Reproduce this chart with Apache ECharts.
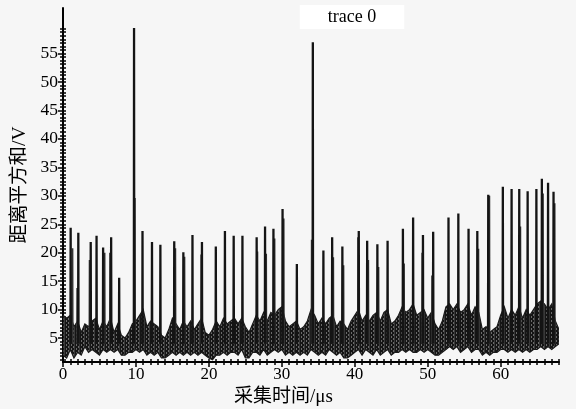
<!DOCTYPE html>
<html><head><meta charset="utf-8">
<script src="https://cdn.jsdelivr.net/npm/echarts@6/dist/echarts.min.js"></script>
<style>html,body{margin:0;padding:0;background:#f6f6f6}#c{width:576px;height:409px}</style>
</head><body><div id="c"></div>
<script>
// Noise band envelopes, sampled every 0.5 µs from 0 to 68
const bandStep = 0.5;
const bandHigh = [9,8.5,9,7,8,6,7.5,7,8,8.5, 6.5,8,7,8.5,6,7.5,5.5,5,6,7.5, 8,9,10,7,8,7.5,7,5.5,5,6.5,
  8.5,7.5,6.5,8,7,8,6.5,7.5,8.5,6, 5.5,6.5,8,7,8.5,7.5,8,8.5,7.5,8.5, 7,6,7.5,9,8,9.5,8,9.5,9,10,
  10.5,8,7,7.5,8,6.5,7,8,10,9, 7.5,8.5,7.5,8.5,9,7,8,7.5,6.5,8, 9,10,8,9,8,9,9.5,8,9.5,10,
  7.5,8,9,10.5,9.5,10,11,9,9.5,10, 8.5,9.5,7.5,6.5,8,10.5,11,10,11,9.5, 10,11,9,10.5,9.5,6.5,7,6,6.5,7,
  9,10.5,8.5,10,9,10.5,8.5,10,9,10, 11,11.5,11,10,11,8,6.5];
const bandLow = [2,1.5,3,1.5,2.5,2,3.5,2.5,3,2.5, 2,3,2.5,3,2.5,3,2,2,2.5,2.5, 3,2.5,3,2,2.5,2,2.5,1.5,1.5,2,
  2.5,2,2.5,2,2.5,2,2.5,2,2.5,2, 1.5,1.2,2,2,2.5,2,2.5,2.5,2,3, 1.5,1.5,2.5,2.5,2,3,2,2.5,3,2.5,
  3,2,2.5,2,2.5,2,2.5,2,3,2.5, 2,2.5,2,3,2.5,2,2.5,1.5,1.5,2, 2.5,3,2,3,2.5,2,3,2,2.5,3,
  2,2.5,2.5,3,2.5,3,2.5,2.5,3,2.5, 3,2.5,2,2,2.5,3,3.5,3,3.5,2.5, 3,3.5,2.5,3,3,2,2.5,2,2.5,2.5,
  3,3,2.5,3,2.5,3,2.5,3,2.5,3, 3,3.5,3,3.5,3,3.5,4];
// Main spikes (µs, V)
const spikeX = [1.05,2.1,3.8,4.6,5.5,6.6,7.7,9.74,10.9,12.2,13.35,15.25,16.5,17.75,19.05,20.95,22.2,23.4,24.6,
  26.55,27.7,28.85,30.1,32.06,34.25,35.7,36.9,38.3,40.55,41.7,43.1,44.5,46.6,48.0,49.35,50.75,52.85,54.2,55.6,
  56.8,58.3,60.3,61.5,62.55,63.7,64.9,65.65,66.5,67.25];
const spikeY = [24.4,23.5,21.9,23.0,20.9,22.7,15.6,59.5,23.8,21.9,21.4,22.0,20.1,23.1,21.9,21.1,23.8,23.0,23.0,
  22.7,24.6,24.2,27.7,18.0,57.0,20.4,22.7,21.1,23.8,22.1,21.5,22.1,24.2,26.2,23.1,23.7,26.2,26.9,24.2,
  23.8,30.2,31.6,31.2,31.2,30.8,31.2,33.0,32.3,30.7];
// Secondary (companion) spikes
const spike2X = [1.3,1.95,3.65,5.7,6.45,9.85,15.4,16.65,18.95,26.65,27.85,29.0,30.25,34.1,37.05,38.45,40.45,41.85,
  43.25,46.75,49.25,50.6,56.95,58.45,62.7,65.8,67.4];
const spike2Y = [20.8,13.8,18.7,20.0,20.0,29.6,20.8,19.3,19.7,20.2,19.8,22.5,26.0,22.3,19.2,17.8,22.7,18.7,
  17.5,18.1,20.0,16.0,20.7,30.0,24.6,30.4,28.7];
const spikeBase = 4;
const xMajor = [0,10,20,30,40,50,60];
const yMajor = [5,10,15,20,25,30,35,40,45,50,55];
const xMinor = [];
for (let v = 1; v <= 68; v++) xMinor.push(v);
const yMinor = [];
for (let k = 2; k * 0.625 <= 59.5; k++) yMinor.push(k * 0.625);

const serif = "'Liberation Serif','Noto Sans CJK SC',serif";
// texture for the dense noise band: fine vertical strokes
const tex = document.createElement('canvas');
tex.width = 5; tex.height = 4;
(function () {
  const g = tex.getContext('2d');
  g.fillStyle = '#151515'; g.fillRect(0, 0, 5, 4);
  g.fillStyle = '#6a6a6a'; g.fillRect(1, 0, 1, 2); g.fillRect(3, 2, 1, 2);
  g.fillStyle = '#3a3a3a'; g.fillRect(4, 0, 1, 4);
})();
function spikeData(xs, ys) {
  const d = [];
  xs.forEach((x, i) => { d.push([x - 0.03, spikeBase], [x, ys[i]], [x + 0.03, spikeBase], [x + 0.03, '-']); });
  return d;
}
function renderBand(params, api) {
  const pts = [];
  for (let i = 0; i < bandHigh.length; i++) pts.push(api.coord([i * bandStep, bandHigh[i]]));
  for (let i = bandLow.length - 1; i >= 0; i--) pts.push(api.coord([i * bandStep, bandLow[i]]));
  return { type: 'polygon', shape: { points: pts },
    style: { fill: { image: tex, repeat: 'repeat' }, stroke: '#1a1a1a', lineWidth: 1.2 } };
}
const X = { min: 0, max: 68 }, Y = { min: 0.8, max: 63 };
function xa(extra) {
  return Object.assign({ type: 'value', position: 'bottom', min: X.min, max: X.max, splitLine: { show: false },
    axisLine: { show: false }, axisLabel: { show: false } }, extra);
}
function ya(extra) {
  return Object.assign({ type: 'value', position: 'left', min: Y.min, max: Y.max, splitLine: { show: false },
    axisLine: { show: false }, axisLabel: { show: false } }, extra);
}
const chart = echarts.init(document.getElementById('c'));
chart.setOption({
  backgroundColor: '#f6f6f6',
  animation: false,
  title: { text: 'trace 0', left: 324, top: 5, textAlign: 'center', backgroundColor: '#ffffff', padding: [3, 28],
    textStyle: { fontFamily: serif, fontSize: 18, fontWeight: 'normal', color: '#000' } },
  grid: { left: 63, right: 17, top: 8, bottom: 47, containLabel: false, outerBoundsMode: 'none' },
  xAxis: [
    xa({ interval: 10, name: '采集时间/μs', nameLocation: 'middle', nameGap: 24,
      nameTextStyle: { fontFamily: serif, fontSize: 19, color: '#000', padding: [0, 55, 0, 0] },
      axisLine: { show: true, onZero: false, lineStyle: { color: '#000', width: 2 } },
      axisTick: { show: true, customValues: xMajor, length: 5, lineStyle: { color: '#000', width: 1.5 } },
      axisLabel: { show: true, customValues: xMajor, margin: 4, fontFamily: serif, fontSize: 17, color: '#000' } }),
    xa({ axisTick: { show: true, customValues: xMinor, length: 3, lineStyle: { color: '#000', width: 1.5 } } }),
    xa({ axisTick: { show: true, inside: true, customValues: xMinor, length: 3, lineStyle: { color: '#000', width: 1.5 } } })
  ],
  yAxis: [
    ya({ name: '距离平方和/V', nameLocation: 'middle', nameGap: 31,
      nameTextStyle: { fontFamily: serif, fontSize: 19.5, color: '#000' },
      axisLine: { show: true, onZero: false, lineStyle: { color: '#000', width: 2 } },
      axisTick: { show: true, customValues: yMajor, length: 5, lineStyle: { color: '#000', width: 1.5 } },
      axisLabel: { show: true, customValues: yMajor, margin: 5, fontFamily: serif, fontSize: 17.5, color: '#000' } }),
    ya({ axisTick: { show: true, customValues: yMinor, length: 3, lineStyle: { color: '#000', width: 1.5 } } }),
    ya({ axisTick: { show: true, inside: true, customValues: yMinor, length: 3, lineStyle: { color: '#000', width: 1.5 } } })
  ],
  series: [
    { type: 'custom', coordinateSystem: 'cartesian2d', data: [[0, bandLow[0]]], renderItem: renderBand, silent: true, clip: true },
    { type: 'line', data: spikeData(spike2X, spike2Y), symbol: 'none', connectNulls: false, silent: true,
      lineStyle: { color: '#333333', width: 1.8 } },
    { type: 'line', data: spikeData(spikeX, spikeY), symbol: 'none', connectNulls: false, silent: true,
      lineStyle: { color: '#141414', width: 2.3 } }
  ]
});
</script>
</body></html>
